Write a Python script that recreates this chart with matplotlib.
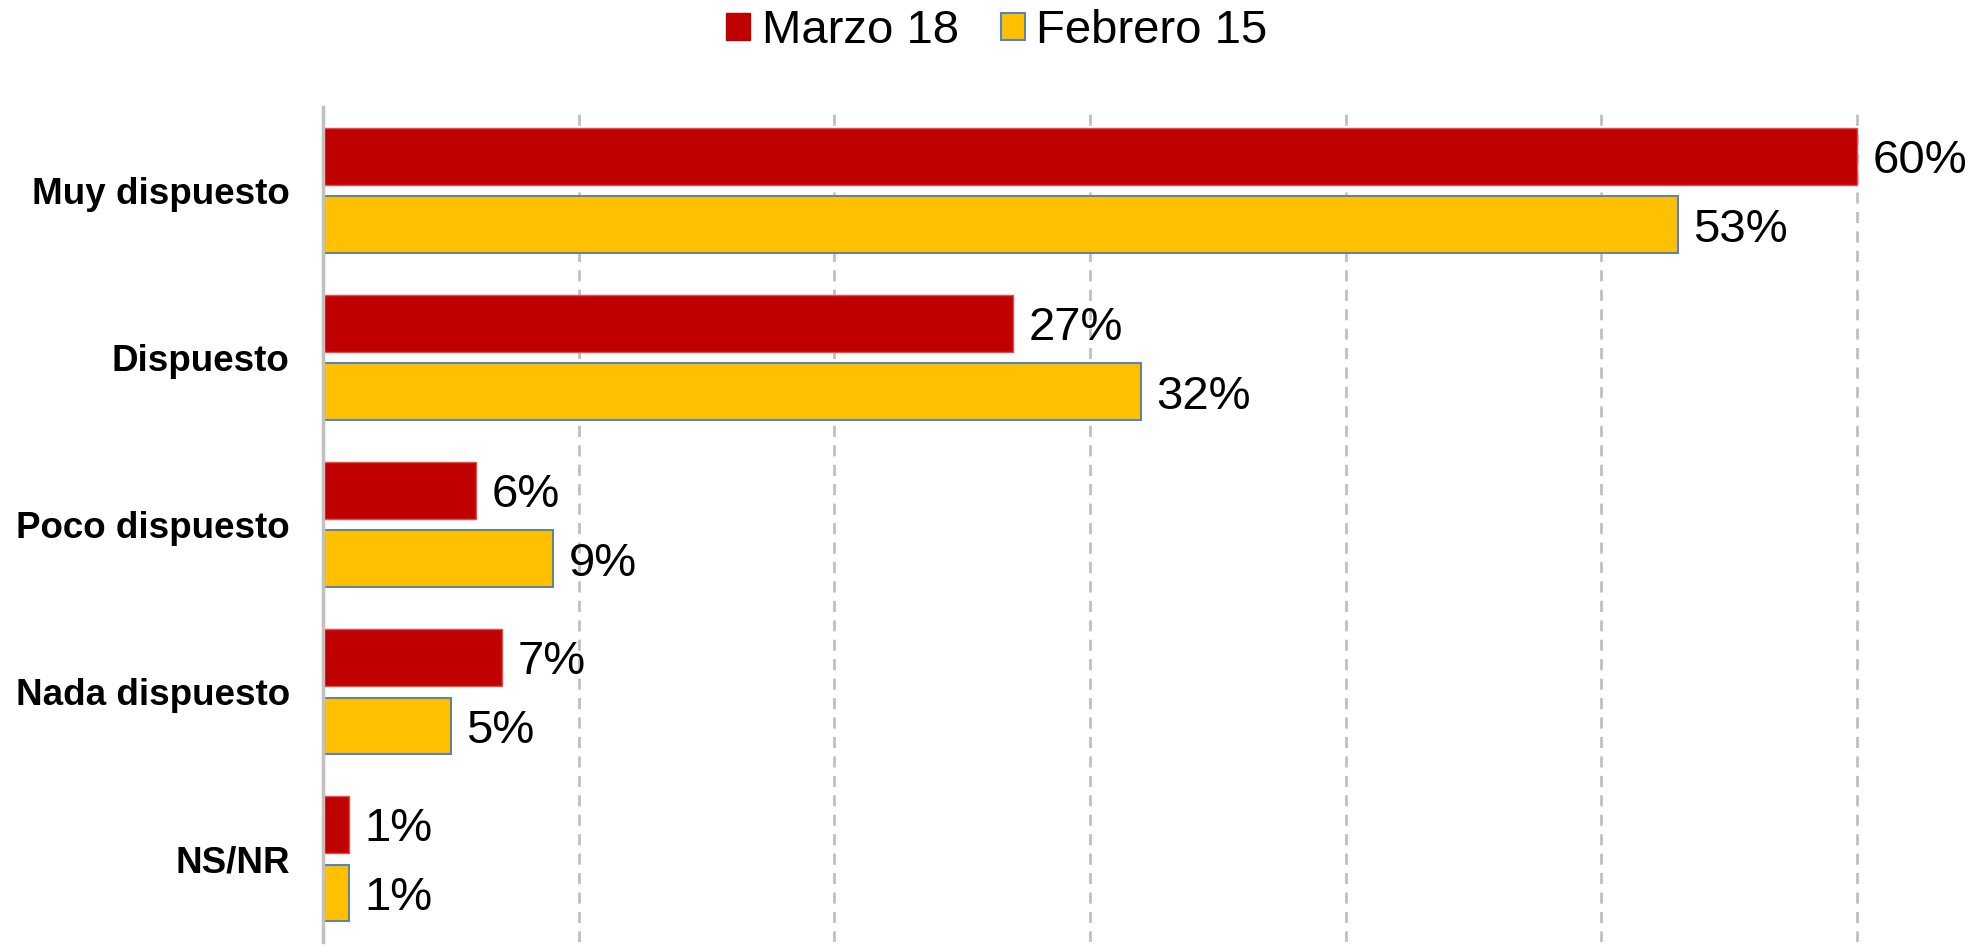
import numpy as np
import matplotlib.pyplot as plt
from matplotlib.patches import Patch

plt.rcParams['font.family'] = ['Liberation Sans', 'DejaVu Sans']

categories = ['Muy dispuesto', 'Dispuesto', 'Poco dispuesto', 'Nada dispuesto', 'NS/NR']
series_names = ['Marzo 18', 'Febrero 15']
marzo_18 = [0.60, 0.27, 0.06, 0.07, 0.01]
febrero_15 = [0.53, 0.32, 0.09, 0.05, 0.01]
grid_ticks = [0.1, 0.2, 0.3, 0.4, 0.5, 0.6]

red = '#C00000'
yellow = '#FFC000'

fig = plt.figure(figsize=(19.82, 9.47), dpi=100)
ax = fig.add_axes([0.163, 0.005, 0.832, 0.882])

y = np.arange(len(categories))
bh = 0.34
off = 0.205

ax.barh(y - off, marzo_18, height=bh, color=red, edgecolor='#E05050', linewidth=1, zorder=3)
ax.barh(y + off, febrero_15, height=bh, color=yellow, edgecolor='#5B84B1', linewidth=1.5, zorder=3)

# value labels next to each bar
for vals, pos in [(marzo_18, y - off), (febrero_15, y + off)]:
    for v, p in zip(vals, pos):
        ax.annotate(f'{v*100:.0f}%', xy=(v, p), xytext=(11, 0), textcoords='offset points',
                    ha='left', va='center_baseline', fontsize=34, color='black')

ax.set_xlim(0, 0.645)
ax.set_ylim(len(categories) - 0.5, -0.5)

ax.set_yticks(y)
ax.set_yticklabels(categories, fontsize=26.5, fontweight='bold')
ax.tick_params(axis='y', length=0, pad=24)
ax.set_xticks(grid_ticks)
ax.tick_params(axis='x', length=0, labelbottom=False)
ax.xaxis.grid(True, color='#C0C0C0', linestyle=(0, (4, 3)), linewidth=2, zorder=0)

for s in ['top', 'right', 'bottom']:
    ax.spines[s].set_visible(False)
ax.spines['left'].set_color('#C0C0C0')
ax.spines['left'].set_linewidth(2.5)
ax.spines['left'].set_zorder(4)

handles = [Patch(facecolor=red, edgecolor=red),
           Patch(facecolor=yellow, edgecolor='#5B84B1', linewidth=1.5)]
fig.legend(handles, series_names, loc='upper center', bbox_to_anchor=(0.503, 1.035),
           ncol=2, frameon=False, fontsize=34, handlelength=0.5, handleheight=0.5,
           handletextpad=0.25, columnspacing=0.9)

fig.savefig('out.png', dpi=100)
